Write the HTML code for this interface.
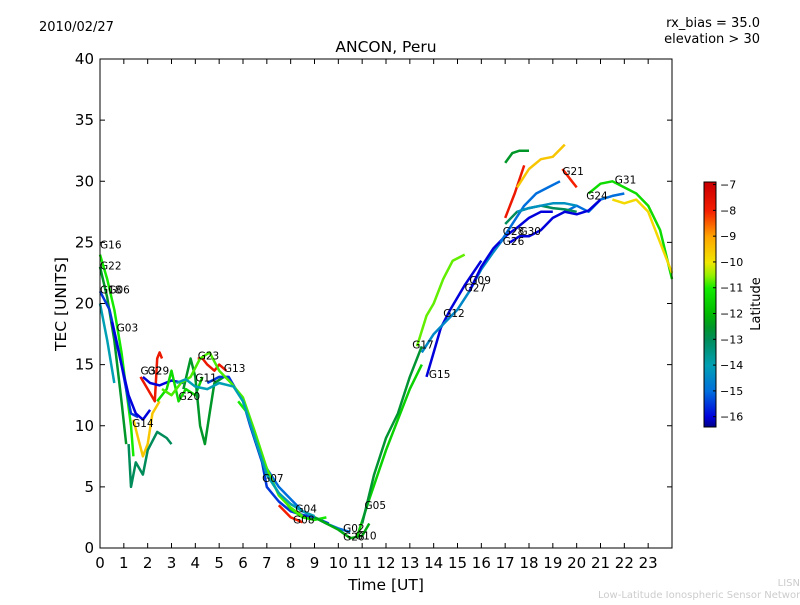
<!DOCTYPE html>
<html><head><meta charset="utf-8"><style>
body{margin:0;background:#fff;}
svg text{font-family:"DejaVu Sans","Liberation Sans",sans-serif;}
</style></head><body>
<svg id="chart" width="800" height="600" xmlns="http://www.w3.org/2000/svg">
<rect width="800" height="600" fill="#fff"/>
<text x="39" y="31" font-size="13">2010/02/27</text>
<text x="760" y="27" font-size="13" text-anchor="end">rx_bias = 35.0</text>
<text x="760" y="43" font-size="13" text-anchor="end">elevation &gt; 30</text>
<text x="386" y="52" font-size="15.5" text-anchor="middle">ANCON, Peru</text>
<text x="386" y="590" font-size="15.5" text-anchor="middle">Time [UT]</text>
<text x="66" y="304" font-size="15.5" text-anchor="middle" transform="rotate(-90 66 304)">TEC [UNITS]</text>
<text x="760" y="304" font-size="13" text-anchor="middle" transform="rotate(-90 760 304)">Latitude</text>
<text x="800" y="586" font-size="10" fill="#ccc" text-anchor="end">LISN</text>
<text x="806" y="598" font-size="10" fill="#ccc" text-anchor="end">Low-Latitude Ionospheric Sensor Network</text>
<g id="plot"></g>
<g id="axes"></g>
<g id="cbar"></g>
</svg>
<script>
const xTicks=[0,1,2,3,4,5,6,7,8,9,10,11,12,13,14,15,16,17,18,19,20,21,22,23];
const yTicks=[0,5,10,15,20,25,30,35,40];
const cbTicks=[-7,-8,-9,-10,-11,-12,-13,-14,-15,-16];
const trackIds=['G16','G22','G18','G06','G03','G14a','G14b','G32','G29','G20','G11','G23','G13','G07','G04','G08','G02','G05','G05b','G15','G17','G12','G09','G26','G21a','G21b','G21c','G21d','G31','G24','G28','G30','G20b','G13b','G27b','G24b'];
const trackLats=[-11,-12.5,-14,-15.5,-16,-9.5,-13,-7.8,-16,-11.3,-12.5,-7.8,-15.5,-11,-15,-8,-12.2,-11.5,-12.6,-16,-10.7,-14.5,-16,-15,-12.5,-7.8,-9.5,-8,-11.3,-15,-13,-9.8,-10.8,-14,-16,-14.3];
const trackPts=[
[[0,24],[0.3,22],[0.6,19.5],[0.9,16],[1.1,13],[1.3,10],[1.4,7.5]],
[[0,23],[0.3,20.5],[0.6,17],[0.9,12],[1.1,8.5]],
[[0,20],[0.3,17],[0.6,13.5]],
[[0,21],[0.4,19.5],[0.8,16],[1.1,13],[1.3,11],[1.6,10.7]],
[[0.5,18.5],[0.9,15],[1.2,12.5],[1.5,11],[1.8,10.5],[2.1,11.3]],
[[1.4,10.5],[1.6,9],[1.8,7.5],[2.0,8.5],[2.2,11],[2.5,12]],
[[1.2,8.5],[1.3,5],[1.5,7],[1.8,6],[2,8],[2.4,9.5],[2.8,9],[3,8.5]],
[[1.7,14],[2,13],[2.3,12],[2.4,15.5],[2.5,16],[2.6,15.5]],
[[1.8,14],[2.1,13.5],[2.5,13.3],[3,13.7],[3.5,13.5]],
[[2.4,12],[2.8,13],[3,14.5],[3.3,12],[3.6,13],[4,12.5],[4.3,14]],
[[3.5,13],[3.8,15.5],[4,14],[4.2,10],[4.4,8.5],[4.6,11],[4.8,13.5],[5.2,14]],
[[4.1,15.5],[4.3,15.5],[4.5,15],[4.8,14.5],[5,15],[5.3,14.5]],
[[4.5,13.5],[5,14],[5.4,14],[5.7,13],[6,12],[6.3,10],[6.8,7],[7,5],[7.5,3.8],[8,3],[8.5,2.7],[9,2.5],[9.6,2]],
[[5.8,12],[6.2,11],[6.6,8.5],[7,6],[7.5,4.5],[8,3.2],[8.5,2.5],[9,2.3],[9.5,2.5]],
[[6.5,9],[7,6.5],[7.5,5],[8,4],[8.5,3],[9,2.5],[9.5,2],[10,1.6],[10.5,1.3]],
[[7.5,3.5],[8,2.5],[8.5,2.1]],
[[9,2.5],[9.5,2],[10,1.5],[10.5,0.8],[11,1],[11.3,2]],
[[10.8,1],[11.3,4],[12,8],[12.5,10.5],[13,13],[13.5,15]],
[[11,2],[11.5,6],[12,9],[12.5,11],[13,14],[13.5,16.5]],
[[13.7,14],[14,16],[14.3,18],[14.7,19.5],[15.3,21.5],[16,23.5]],
[[13.3,16.5],[13.7,19],[14,20],[14.4,22],[14.8,23.5],[15.3,24]],
[[13.5,16],[14,17.5],[14.5,18.5],[15,19.5],[15.5,21],[16,22.8],[16.5,24.2],[17,25.5]],
[[15.5,21],[16,23],[16.5,24.5],[17,25.5],[17.5,26.2],[18,27],[18.5,27.5],[19,27.5]],
[[16.8,25],[17.3,26.5],[17.8,28],[18.3,29],[18.8,29.5],[19.3,30]],
[[17,31.5],[17.3,32.3],[17.6,32.5],[18,32.5]],
[[17,27],[17.4,29],[17.8,31.3]],
[[17.5,29.5],[18,31],[18.5,31.8],[19,32],[19.5,33]],
[[19.4,31],[19.8,30],[20,29.5]],
[[20.5,29],[21,29.8],[21.5,30],[22,29.5],[22.5,29],[23,28],[23.5,26],[24,22]],
[[19.5,27.5],[20,28],[20.5,27.5],[21,28.5],[21.5,28.8],[22,29]],
[[17,26.5],[17.5,27.5],[18,27.8],[18.5,28],[19,27.8],[19.5,27.7],[20,27.5]],
[[21.5,28.5],[22,28.2],[22.5,28.5],[23,27.5],[23.5,25],[24,22.5]],
[[2.6,13],[3,12.5],[3.4,13.5],[3.8,14],[4.2,15.5],[4.6,16],[5,14.5],[5.5,13.5],[6,12.3],[6.5,9.5],[7,6.5],[7.5,4.3],[8,3.3],[8.5,2.6]],
[[3.2,13.5],[3.6,13.8],[4,13.2],[4.5,13],[5,13.5],[5.6,13.2],[6,12],[6.5,9],[7,6],[7.5,4.5],[8,3.6],[8.5,3],[9,2.6]],
[[17.2,25],[17.6,25.5],[18,25.5],[18.5,26],[19,27],[19.5,27.5],[20,27.3],[20.5,27.6],[21,28.5]],
[[17.5,27.5],[18,27.8],[18.5,28],[19,28.2],[19.5,28.2],[20,28]]
];
const labelNames=['G16','G22','G18','G06','G03','G14','G32','G29','G20','G11','G23','G13','G07','G04','G08','G02','G26','G10','G05','G17','G15','G12','G09','G27','G26','G28','G30','G21','G24','G31'];
const labelT=[0,0,0,0.35,0.7,1.35,1.7,2.0,3.3,4,4.1,5.2,6.8,8.2,8.1,10.2,10.2,10.7,11.1,13.1,13.8,14.4,15.5,15.3,16.9,16.9,17.6,19.4,20.4,21.6];
const labelV=[24.5,22.8,20.8,20.8,17.7,9.9,14.2,14.2,12.1,13.6,15.4,14.4,5.4,2.9,2.0,1.3,0.6,0.7,3.2,16.3,13.9,18.9,21.6,21,24.8,25.6,25.6,30.5,28.5,29.8];

const X0=100,X1=672,Y0=548,Y1=59;
const xs=t=>X0+(X1-X0)*t/24;
const ys=v=>Y0-(Y0-Y1)*v/40;
const NS='http://www.w3.org/2000/svg';
function mk(tag,attrs,parent){const e=document.createElementNS(NS,tag);for(const k in attrs)e.setAttribute(k,attrs[k]);parent.appendChild(e);return e;}
const LMIN=-16.4,LMAX=-6.9;
const stops=[[-16.4,[0,0,130]],[-16,[0,0,220]],[-15,[0,110,220]],[-14,[0,160,180]],[-13,[0,140,90]],[-12.5,[0,150,40]],[-12,[0,185,0]],[-11,[20,235,0]],[-10.5,[150,240,0]],[-10,[240,230,0]],[-9,[255,165,0]],[-8,[245,30,0]],[-7,[205,0,0]],[-6.9,[200,0,0]]];
function cmap(lat){lat=Math.max(LMIN,Math.min(LMAX,lat));
for(let i=0;i<stops.length-1;i++){const a=stops[i],b=stops[i+1];if(lat>=a[0]&&lat<=b[0]){const f=(lat-a[0])/(b[0]-a[0]);const c=a[1].map((v,k)=>Math.round(v+(b[1][k]-v)*f));return `rgb(${c[0]},${c[1]},${c[2]})`;}}
return 'rgb(200,0,0)';}
const plot=document.getElementById('plot');
trackPts.forEach((pts,i)=>{
const p=mk('polyline',{points:pts.map(q=>xs(q[0]).toFixed(1)+','+ys(q[1]).toFixed(1)).join(' '),fill:'none',stroke:cmap(trackLats[i]),'stroke-width':2.5,'stroke-linejoin':'round'},plot);


});
labelNames.forEach((n,i)=>{
const t=mk('text',{x:xs(labelT[i]),y:ys(labelV[i]),'font-size':10.5},plot);t.textContent=n;


});
const ax=document.getElementById('axes');
const fr=mk('rect',{x:X0,y:Y1,width:X1-X0,height:Y0-Y1,fill:'none',stroke:'#000','stroke-width':1},ax);


xTicks.forEach(t=>{const x=xs(t);
mk('line',{x1:x,x2:x,y1:Y0,y2:Y0-5,stroke:'#000'},ax);mk('line',{x1:x,x2:x,y1:Y1,y2:Y1+5,stroke:'#000'},ax);
const l=mk('text',{x:x,y:Y0+20,'font-size':15,'text-anchor':'middle'},ax);l.textContent=t;

});
yTicks.forEach(v=>{const y=ys(v);
mk('line',{x1:X0,x2:X0+5,y1:y,y2:y,stroke:'#000'},ax);mk('line',{x1:X1,x2:X1-5,y1:y,y2:y,stroke:'#000'},ax);
const l=mk('text',{x:X0-6,y:y+5,'font-size':15,'text-anchor':'end'},ax);l.textContent=v;

});
const cb=document.getElementById('cbar');
const CX=704,CW=12,CT=182,CB=427;
for(let y=CT;y<CB;y++){const lat=LMAX-(LMAX-LMIN)*(y-CT)/(CB-CT);mk('rect',{x:CX,y:y,width:CW,height:1.2,fill:cmap(lat)},cb);}
const cbf=mk('rect',{x:CX,y:CT,width:CW,height:CB-CT,fill:'none',stroke:'#000'},cb);


cbTicks.forEach(v=>{const y=CT+(LMAX-v)/(LMAX-LMIN)*(CB-CT);
mk('line',{x1:CX+CW-3,x2:CX+CW,y1:y,y2:y,stroke:'#000'},cb);
const l=mk('text',{x:CX+CW+4,y:y+4,'font-size':11},cb);l.textContent='\u2212'+Math.abs(v);

});
</script>
</body></html>
